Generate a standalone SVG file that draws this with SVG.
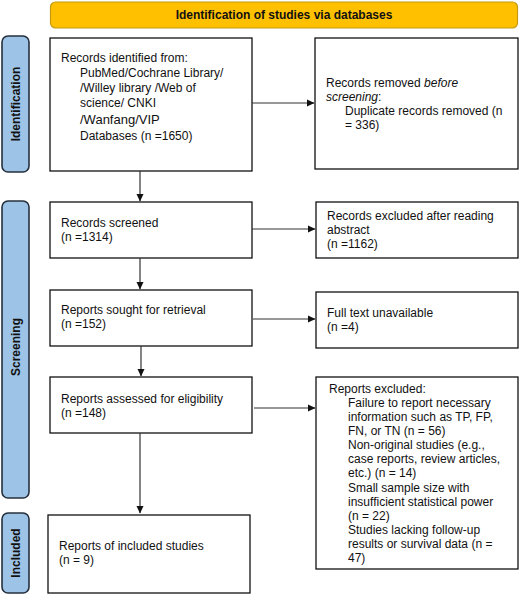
<svg xmlns="http://www.w3.org/2000/svg" width="520" height="596" viewBox="0 0 520 596">
<defs>
<marker id="ah" markerWidth="8" markerHeight="8" refX="7" refY="4" orient="auto" markerUnits="userSpaceOnUse">
<path d="M0,0.5 L7.5,4 L0,7.5 Z" fill="#111"/>
</marker>
<style>
.box{fill:#fff;stroke:#111;stroke-width:1.3}
.side{fill:#9DC3E6;stroke:#26303d;stroke-width:1.6}
.t{font-family:"Liberation Sans",Arial,sans-serif;font-size:12px;fill:#111}
.b{font-family:"Liberation Sans",Arial,sans-serif;font-size:12px;font-weight:bold;fill:#111}
.c{stroke:#333;stroke-width:1.2;fill:none;marker-end:url(#ah)}
</style>
</defs>
<rect width="520" height="596" fill="#fff"/>
<g id="header">
<rect x="50.5" y="2" width="467" height="26" rx="5" fill="#FFC000" stroke="#C49A12" stroke-width="1.2"/>
<text class="b" x="284" y="19" text-anchor="middle">Identification of studies via databases</text>
</g>
<g id="side-identification">
<rect class="side" x="2" y="36" width="27" height="136" rx="6"/>
<text class="b" transform="translate(20,104) rotate(-90)" text-anchor="middle">Identification</text>
</g>
<g id="side-screening">
<rect class="side" x="2" y="201" width="27" height="297" rx="6"/>
<text class="b" transform="translate(20,347) rotate(-90)" text-anchor="middle">Screening</text>
</g>
<g id="side-included">
<rect class="side" x="2" y="513" width="27" height="80" rx="6"/>
<text class="b" transform="translate(20,553) rotate(-90)" text-anchor="middle">Included</text>
</g>
<g id="n-identified">
<rect class="box" x="50" y="38" width="202" height="133"/>
<text class="t" x="61" y="62">Records identified from:</text>
<text class="t" x="80" y="77">PubMed/Cochrane Library/</text>
<text class="t" x="80" y="92">/Willey library /Web of</text>
<text class="t" x="80" y="107">science/ CNKI</text>
<text class="t" x="80" y="124" style="font-size:13px">/Wanfang/VIP</text>
<text class="t" x="80" y="140">Databases (n =1650)</text>
</g>
<g id="n-removed">
<rect class="box" x="315" y="38" width="203" height="131"/>
<text class="t" x="326" y="87">Records removed <tspan font-style="italic">before</tspan></text>
<text class="t" x="326" y="101"><tspan font-style="italic">screening</tspan>:</text>
<text class="t" x="345" y="115">Duplicate records removed (n</text>
<text class="t" x="345" y="129">= 336)</text>
</g>
<g id="n-screened">
<rect class="box" x="50" y="202" width="202" height="56"/>
<text class="t" x="61" y="227">Records screened</text>
<text class="t" x="61" y="241">(n =1314)</text>
</g>
<g id="n-excluded-abstract">
<rect class="box" x="316" y="202" width="202" height="56"/>
<text class="t" x="327" y="220">Records excluded after reading</text>
<text class="t" x="327" y="234">abstract</text>
<text class="t" x="327" y="248">(n =1162)</text>
</g>
<g id="n-sought">
<rect class="box" x="50" y="290" width="202" height="56"/>
<text class="t" x="61" y="314">Reports sought for retrieval</text>
<text class="t" x="61" y="328">(n =152)</text>
</g>
<g id="n-unavailable">
<rect class="box" x="316" y="292" width="202" height="56"/>
<text class="t" x="327" y="317">Full text unavailable</text>
<text class="t" x="327" y="331">(n =4)</text>
</g>
<g id="n-assessed">
<rect class="box" x="50" y="377" width="202" height="56"/>
<text class="t" x="61" y="403">Reports assessed for eligibility</text>
<text class="t" x="61" y="417">(n =148)</text>
</g>
<g id="n-excluded">
<rect class="box" x="316" y="377" width="202" height="192"/>
<text class="t" x="329" y="393">Reports excluded:</text>
<text class="t" x="348" y="407">Failure to report necessary</text>
<text class="t" x="348" y="421">information such as TP, FP,</text>
<text class="t" x="348" y="435">FN, or TN (n = 56)</text>
<text class="t" x="348" y="449">Non-original studies (e.g.,</text>
<text class="t" x="348" y="463">case reports, review articles,</text>
<text class="t" x="348" y="477">etc.) (n = 14)</text>
<text class="t" x="348" y="492">Small sample size with</text>
<text class="t" x="348" y="506">insufficient statistical power</text>
<text class="t" x="348" y="520">(n = 22)</text>
<text class="t" x="348" y="534">Studies lacking follow-up</text>
<text class="t" x="348" y="548">results or survival data (n =</text>
<text class="t" x="348" y="562">47)</text>
</g>
<g id="n-included">
<rect class="box" x="48" y="515" width="202" height="78"/>
<text class="t" x="59" y="550">Reports of included studies</text>
<text class="t" x="59" y="564">(n = 9)</text>
</g>
<g id="connectors">
<line class="c" x1="252" y1="103" x2="314" y2="103"/>
<line class="c" x1="140" y1="171" x2="140" y2="201"/>
<line class="c" x1="252" y1="229" x2="315" y2="229"/>
<line class="c" x1="140" y1="258" x2="140" y2="289"/>
<line class="c" x1="253" y1="319" x2="315" y2="319"/>
<line class="c" x1="141" y1="346" x2="141" y2="376"/>
<line class="c" x1="254" y1="408" x2="315" y2="408"/>
<line class="c" x1="140" y1="433" x2="140" y2="513"/>
</g>
</svg>
